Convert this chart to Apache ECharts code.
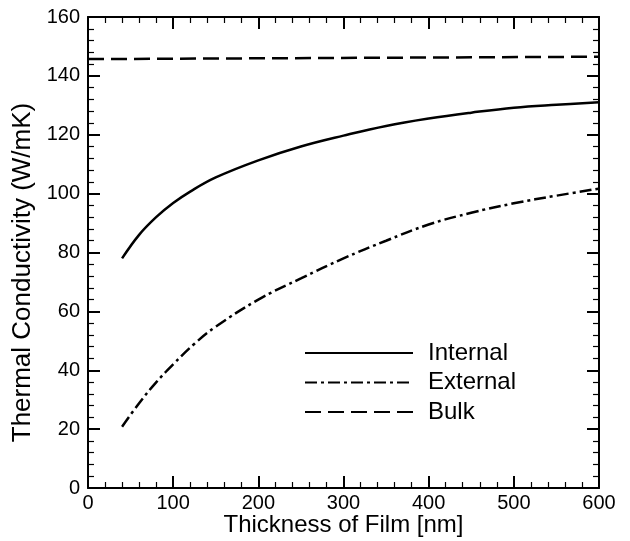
<!DOCTYPE html>
<html>
<head>
<meta charset="utf-8">
<script src="https://cdn.jsdelivr.net/npm/echarts@6/dist/echarts.min.js"></script>
<style>
  html, body { margin: 0; padding: 0; background: #fff; }
  #chart { width: 630px; height: 541px; }
</style>
</head>
<body>
<div id="chart"></div>
<script>
// film thickness [nm] and conductivity [W/mK]
var internalX = [40, 60, 80, 100, 120, 150, 200, 250, 300, 350, 400, 450, 500, 550, 600];
var internalY = [78, 86, 92, 96.8, 100.7, 105.5, 111.3, 116, 119.7, 123, 125.5, 127.5, 129.2, 130.2, 131];
var externalX = [40, 60, 80, 100, 125, 150, 200, 250, 300, 350, 400, 450, 500, 550, 600];
var externalY = [20.8, 28.8, 35.9, 42, 49, 54.8, 64, 71.2, 78, 84, 89.5, 93.5, 96.7, 99.3, 101.7];
var bulkX = [0, 600];
var bulkY = [145.7, 146.5];

function pairs(xs, ys) {
    var out = [];
    xs.forEach(function (x, i) { out.push([x, ys[i]]); });
    return out;
}

var font = 'Liberation Sans, Arial, sans-serif';
var black = '#000';

function axisBase(show) {
    return {
        type: 'value',
        axisLine: { show: true, onZero: false, lineStyle: { color: black, width: 2 } },
        axisTick: { show: true, inside: true, length: 12, lineStyle: { color: black, width: 2 } },
        minorTick: { show: true, splitNumber: 5, length: 6, lineStyle: { color: black, width: 1.2 } },
        splitLine: { show: false },
        axisLabel: { show: show, color: black, fontSize: 20, fontFamily: font }
    };
}

var xBottom = Object.assign(axisBase(true), {
    min: 0, max: 600, interval: 100, position: 'bottom',
    name: 'Thickness of Film [nm]', nameLocation: 'middle', nameGap: 25, nameMoveOverlap: false,
    nameTextStyle: { color: black, fontSize: 24, fontFamily: font }
});
xBottom.axisLabel.margin = 5;
var xTop = Object.assign(axisBase(false), { min: 0, max: 600, interval: 100, position: 'top' });

var yLeft = Object.assign(axisBase(true), {
    min: 0, max: 160, interval: 20, position: 'left',
    name: 'Thermal Conductivity (W/mK)', nameLocation: 'middle', nameGap: 52,
    nameTextStyle: { color: black, fontSize: 26, fontFamily: font, padding: [0, 40, 0, 0] }
});
yLeft.axisLabel.margin = 8;
var yRight = Object.assign(axisBase(false), { min: 0, max: 160, interval: 20, position: 'right' });

var option = {
    animation: false,
    backgroundColor: '#fff',
    grid: { left: 88, right: 31, top: 17, bottom: 53, containLabel: false, outerBoundsMode: 'none' },
    xAxis: [xBottom, xTop],
    yAxis: [yLeft, yRight],
    legend: {
        orient: 'vertical',
        left: 299,
        top: 336,
        itemWidth: 108,
        itemHeight: 18,
        itemGap: 5.5,
        itemStyle: { opacity: 0 },
        textStyle: { color: black, fontSize: 24, lineHeight: 24, fontFamily: font, padding: [0, 0, 0, 10] },
        data: ['Internal', 'External', 'Bulk']
    },
    series: [
        {
            name: 'Internal', type: 'line', symbol: 'none', smooth: 0.4,
            lineStyle: { color: black, width: 2.5, type: 'solid' },
            itemStyle: { color: black },
            data: pairs(internalX, internalY)
        },
        {
            name: 'External', type: 'line', symbol: 'none', smooth: 0.4,
            lineStyle: { color: black, width: 2.5, type: [12, 4, 3, 4] },
            itemStyle: { color: black },
            data: pairs(externalX, externalY)
        },
        {
            name: 'Bulk', type: 'line', symbol: 'none',
            lineStyle: { color: black, width: 2.5, type: [16, 7] },
            itemStyle: { color: black },
            data: pairs(bulkX, bulkY)
        }
    ]
};

var chart = echarts.init(document.getElementById('chart'));
chart.setOption(option);
</script>
</body>
</html>
